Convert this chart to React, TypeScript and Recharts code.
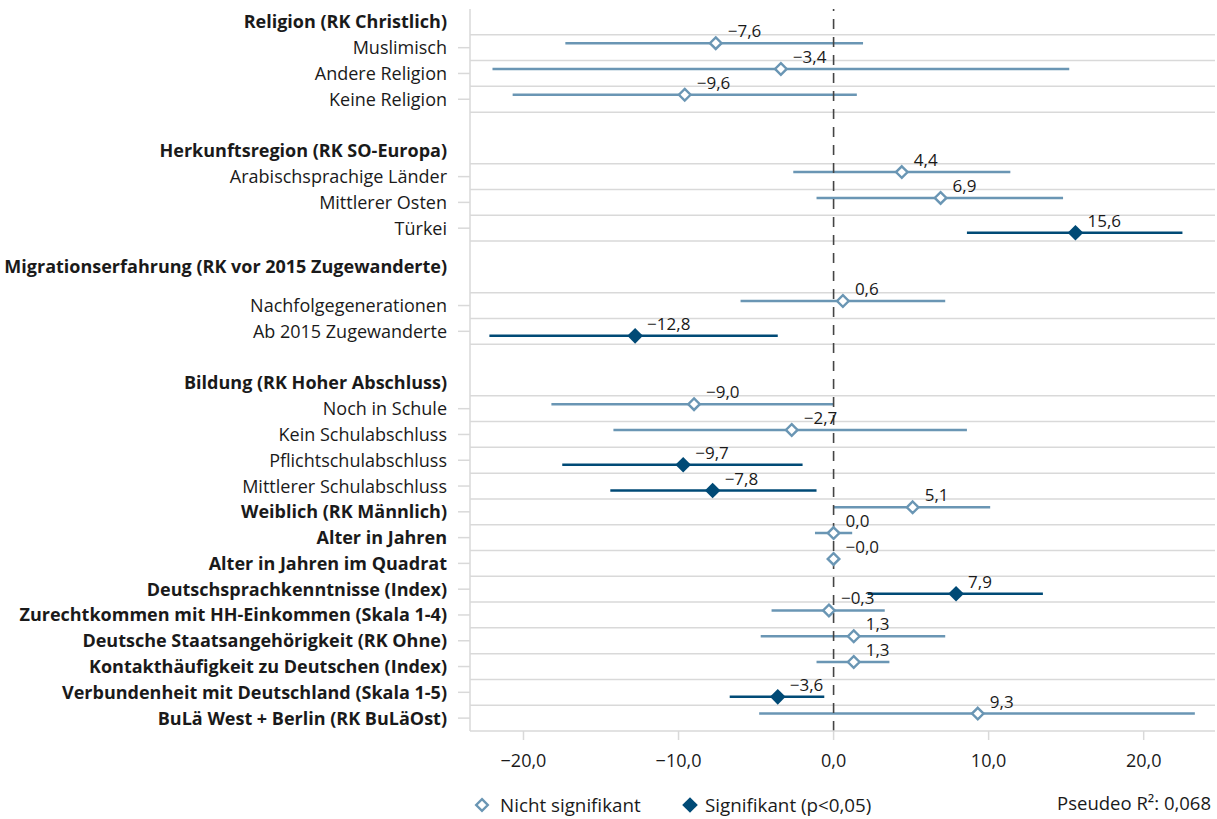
import React from 'react';
import {
  ScatterChart,
  Scatter,
  XAxis,
  YAxis,
  CartesianGrid,
  ReferenceLine,
  ErrorBar,
  LabelList,
  Legend,
} from 'recharts';

// ---- Data -------------------------------------------------------------
const headers = [
  'Religion (RK Christlich)',
  'Herkunftsregion (RK SO-Europa)',
  'Migrationserfahrung (RK vor 2015 Zugewanderte)',
  'Bildung (RK Hoher Abschluss)',
];
// row slot (0 = top row) of each group header
const headerSlots = [0, 5, 9.5, 14];

const categories = [
  'Muslimisch',
  'Andere Religion',
  'Keine Religion',
  'Arabischsprachige Länder',
  'Mittlerer Osten',
  'Türkei',
  'Nachfolgegenerationen',
  'Ab 2015 Zugewanderte',
  'Noch in Schule',
  'Kein Schulabschluss',
  'Pflichtschulabschluss',
  'Mittlerer Schulabschluss',
  'Weiblich (RK Männlich)',
  'Alter in Jahren',
  'Alter in Jahren im Quadrat',
  'Deutschsprachkenntnisse (Index)',
  'Zurechtkommen mit HH-Einkommen (Skala 1-4)',
  'Deutsche Staatsangehörigkeit (RK Ohne)',
  'Kontakthäufigkeit zu Deutschen (Index)',
  'Verbundenheit mit Deutschland (Skala 1-5)',
  'BuLä West + Berlin (RK BuLäOst)',
];
const categorySlots = [1, 2, 3, 6, 7, 8, 11, 12, 15, 16, 17, 18, 19, 20, 21, 22, 23, 24, 25, 26, 27];
const boldCategory = [
  false, false, false, false, false, false, false, false, false, false, false, false,
  true, true, true, true, true, true, true, true, true,
];
const estimates = [-7.6, -3.4, -9.6, 4.4, 6.9, 15.6, 0.6, -12.8, -9.0, -2.7, -9.7, -7.8, 5.1, 0.0, -0.004, 7.9, -0.3, 1.3, 1.3, -3.6, 9.3];
const lower = [-17.3, -22.0, -20.7, -2.6, -1.1, 8.6, -6.0, -22.2, -18.2, -14.2, -17.5, -14.4, 0.0, -1.2, -0.1, 2.2, -4.0, -4.7, -1.1, -6.7, -4.8];
const upper = [1.9, 15.2, 1.5, 11.4, 14.8, 22.5, 7.2, -3.6, 0.0, 8.6, -2.0, -1.1, 10.1, 1.2, 0.1, 13.5, 3.3, 7.2, 3.6, -0.6, 23.3];
const significant = [
  false, false, false, false, false, true, false, true, false, false, true, true,
  false, false, false, true, false, false, false, true, false,
];
const xTicks = [-20, -10, 0, 10, 20];
const legendLabels = ['Nicht signifikant', 'Signifikant (p<0,05)'];
const pseudoR2Label = 'Pseudeo R²: 0,068';

// ---- Styles -----------------------------------------------------------
const FONT = '"Open Sans", "Noto Sans", sans-serif';
const LIGHT = '#6a96b4';
const DARK = '#004a76';
const GRID = '#d9d9d9';
const TEXT = '#1a1a1a';
const TOTAL_SLOTS = 28;
const SHIFT = 0.175;

// ---- Derived ----------------------------------------------------------
const rows = categories.map((name, i) => ({
  name,
  pos: categorySlots[i] + 0.5,
  est: estimates[i],
  err: [estimates[i] - lower[i], upper[i] - estimates[i]],
  sig: significant[i],
  bold: boldCategory[i],
}));
const lightData = rows.filter((r) => !r.sig);
const darkData = rows.filter((r) => r.sig);

type RowInfo = { pos: number; text: string; bold: boolean; tick: boolean; est: number };
const rowInfos: RowInfo[] = [
  ...headers.map((h, i) => ({ pos: headerSlots[i] + 0.5, text: h, bold: true, tick: false, est: 0 })),
  ...rows.map((r) => ({ pos: r.pos, text: r.name, bold: r.bold, tick: true, est: 0 })),
].sort((a, b) => a.pos - b.pos);
const yTicks = rowInfos.map((r) => r.pos);
const gridValues = Array.from({ length: TOTAL_SLOTS - 1 }, (_, i) => i + 1).filter(
  (b) => !headerSlots.some((s) => Math.ceil(s) === b)
);

const fmt = (v: number) => v.toFixed(1).replace('.', ',').replace('-', '\u2212');

// ---- Renderers --------------------------------------------------------
const RowTick = (props: any) => {
  const { x, y, payload } = props;
  const info = rowInfos.find((r) => Math.abs(r.pos - payload.value) < 1e-6);
  if (!info) return null;
  return (
    <g>
      {info.tick && <line x1={x - 12} x2={x} y1={y} y2={y} stroke={GRID} strokeWidth={1.5} />}
      <text
        x={x - 23}
        y={y}
        dy="0.36em"
        textAnchor="end"
        fontFamily={FONT}
        fontSize={18}
        fontWeight={info.bold ? 700 : 400}
        fill={TEXT}
      >
        {info.text}
      </text>
    </g>
  );
};

const diamondPath = (cx: number, cy: number, r: number) =>
  `M${cx},${cy - r} L${cx + r},${cy} L${cx},${cy + r} L${cx - r},${cy} Z`;

const OpenDiamond = (props: any) => {
  const { cx, cy } = props;
  if (cx == null || cy == null) return null;
  return <path d={diamondPath(cx, cy, 5.8)} fill="#ffffff" stroke={LIGHT} strokeWidth={2.4} />;
};
const FilledDiamond = (props: any) => {
  const { cx, cy } = props;
  if (cx == null || cy == null) return null;
  return <path d={diamondPath(cx, cy, 7.8)} fill={DARK} stroke="none" />;
};
const NoShape = () => null;

const ValueLabel = (props: any) => {
  const { x, y, width, height, value } = props;
  if (value == null) return null;
  const cx = x + (width || 0) / 2;
  const cy = y + (height || 0) / 2;
  return (
    <text x={cx + 12} y={cy - 6} fontFamily={FONT} fontSize={17} fill={TEXT}>
      {fmt(value)}
    </text>
  );
};

const LegendContent = () => (
  <div style={{ position: 'relative', width: 1217, height: 30 }}>
    <svg width={1217} height={30} style={{ position: 'absolute', left: 0, top: 0 }}>
      <path d={diamondPath(482, 15, 5.8)} fill="#fff" stroke={LIGHT} strokeWidth={2.4} />
      <text x={500} y={15} dy="0.36em" fontFamily={FONT} fontSize={18.8} fill={TEXT}>
        {legendLabels[0]}
      </text>
      <path d={diamondPath(690, 15, 7.8)} fill={DARK} />
      <text x={705} y={15} dy="0.36em" fontFamily={FONT} fontSize={18.8} fill={TEXT}>
        {legendLabels[1]}
      </text>
      <text x={1211} y={13} dy="0.36em" textAnchor="end" fontFamily={FONT} fontSize={18.5} fill={TEXT}>
        {pseudoR2Label}
      </text>
    </svg>
  </div>
);

export default function App() {
  return (
    <div style={{ position: 'absolute', left: 0, top: 0, width: 1217, height: 819, background: '#fff' }}>
      <ScatterChart width={1217} height={819} margin={{ top: 9, right: 2, bottom: 0, left: 0 }}>
        <CartesianGrid
          vertical={false}
          horizontalValues={gridValues}
          stroke={GRID}
          strokeWidth={1.5}
        />
        <XAxis
          type="number"
          dataKey="est"
          domain={[-23.45, 24.6]}
          ticks={xTicks}
          allowDataOverflow
          tickFormatter={fmt}
          height={88}
          tickSize={9}
          tickMargin={14}
          axisLine={{ stroke: GRID, strokeWidth: 1.5 }}
          tickLine={{ stroke: GRID, strokeWidth: 1.5 }}
          tick={{ fill: TEXT, fontSize: 18, fontFamily: FONT }}
        />
        <YAxis
          type="number"
          dataKey="pos"
          domain={[0, TOTAL_SLOTS]}
          allowDataOverflow
          reversed
          ticks={yTicks}
          interval={0}
          width={470}
          tickSize={0}
          tickMargin={0}
          tickLine={false}
          axisLine={{ stroke: GRID, strokeWidth: 1.5 }}
          tick={<RowTick />}
        />
        <YAxis yAxisId="light" type="number" dataKey="pos" domain={[SHIFT, TOTAL_SLOTS + SHIFT]} allowDataOverflow reversed hide />
        <YAxis yAxisId="dark" type="number" dataKey="pos" domain={[-SHIFT, TOTAL_SLOTS - SHIFT]} allowDataOverflow reversed hide />
        {/* invisible anchor series that ties the row-label axis to the chart */}
        <Scatter data={rowInfos} isAnimationActive={false} shape={<NoShape />} legendType="none" />
        <Scatter
          yAxisId="light"
          data={lightData}
          isAnimationActive={false}
          shape={<OpenDiamond />}
          fill={LIGHT}
        >
          <ErrorBar dataKey="err" direction="x" width={0} stroke={LIGHT} strokeWidth={2.5} isAnimationActive={false} />
          <LabelList dataKey="est" content={<ValueLabel />} />
        </Scatter>
        <Scatter
          yAxisId="dark"
          data={darkData}
          isAnimationActive={false}
          shape={<FilledDiamond />}
          fill={DARK}
        >
          <ErrorBar dataKey="err" direction="x" width={0} stroke={DARK} strokeWidth={2.5} isAnimationActive={false} />
          <LabelList dataKey="est" content={<ValueLabel />} />
        </Scatter>
        <ReferenceLine x={0} stroke="#444444" strokeWidth={1.6} strokeDasharray="10 8" />
        <Legend
          layout="horizontal"
          verticalAlign="middle"
          align="center"
          wrapperStyle={{ top: 790, left: 0, width: 1217, height: 30 }}
          content={<LegendContent />}
        />
      </ScatterChart>
    </div>
  );
}
